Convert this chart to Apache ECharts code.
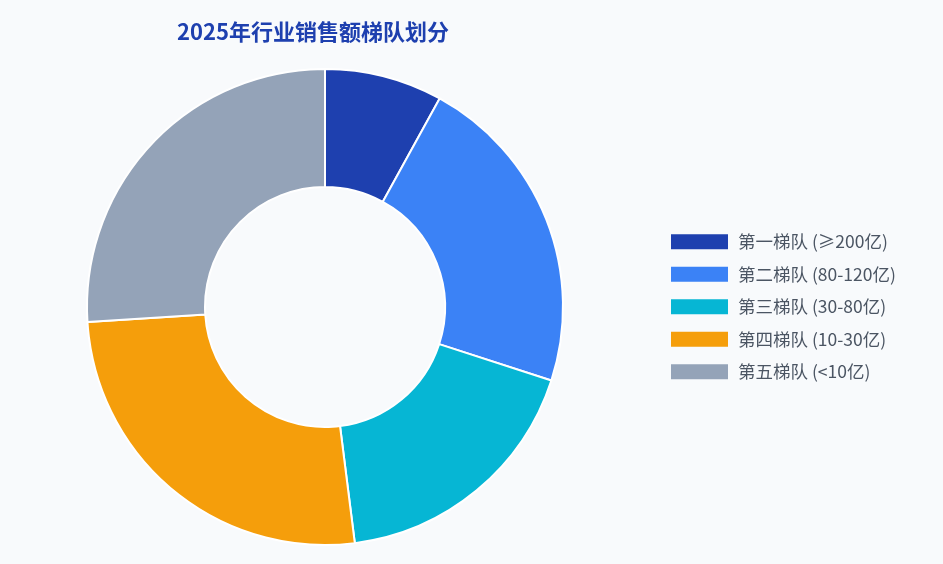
<!DOCTYPE html>
<html>
<head>
<meta charset="utf-8">
<script src="https://cdn.jsdelivr.net/npm/echarts@6/dist/echarts.min.js"></script>
<style>
html,body{margin:0;padding:0;background:#f8fafc;}
#main{width:943px;height:564px;}
</style>
</head>
<body>
<div id="main"></div>
<script>
// 梯队名称、占比、颜色
var tierNames = ['第一梯队 (≥200亿)', '第二梯队 (80-120亿)', '第三梯队 (30-80亿)', '第四梯队 (10-30亿)', '第五梯队 (<10亿)'];
var tierValues = [8, 22, 18, 26, 26];
var tierColors = ['#1e40af', '#3b82f6', '#06b6d4', '#f59e0b', '#94a3b8'];

var pieData = [];
for (let i = 0; i < tierNames.length; i++) {
    pieData.push({ name: tierNames[i], value: tierValues[i] });
}

var chart = echarts.init(document.getElementById('main'));
var option = {
    backgroundColor: '#f8fafc',
    animation: false,
    color: tierColors,
    title: {
        text: '2025年行业销售额梯队划分',
        left: 172,
        top: 16,
        textStyle: {
            color: '#1e40af',
            fontSize: 22,
            fontWeight: 'bold',
            fontFamily: 'Noto Sans CJK SC'
        }
    },
    legend: {
        orient: 'vertical',
        left: 666,
        top: 228,
        itemWidth: 57,
        itemHeight: 15,
        itemGap: 15,
        itemStyle: { borderWidth: 0 },
        icon: 'rect',
        textStyle: {
            color: '#4b5563',
            fontSize: 17.5,
            padding: [0, 0, 0, 5],
            fontFamily: 'Noto Sans CJK SC'
        }
    },
    series: [
        {
            type: 'pie',
            center: [325, 307],
            radius: [120, 238],
            startAngle: 90,
            label: { show: false },
            labelLine: { show: false },
            itemStyle: {
                borderColor: '#ffffff',
                borderWidth: 2
            },
            data: pieData
        }
    ]
};
chart.setOption(option);
</script>
</body>
</html>
